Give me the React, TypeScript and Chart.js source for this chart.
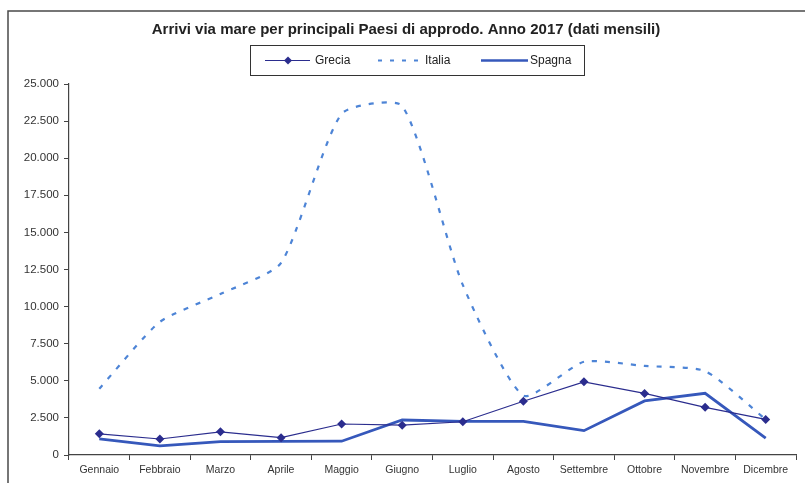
import React, { useEffect, useRef } from "react";
import { Chart, registerables } from "chart.js";

Chart.register(...registerables);

const categories = [
  "Gennaio", "Febbraio", "Marzo", "Aprile", "Maggio", "Giugno",
  "Luglio", "Agosto", "Settembre", "Ottobre", "Novembre", "Dicembre",
];
const grecia = [1430, 1080, 1560, 1170, 2090, 2010, 2240, 3620, 4930, 4150, 3210, 2400];
const italia = [4470, 8970, 10850, 12940, 22990, 23520, 11460, 4000, 6280, 6000, 5650, 2400];
const spagna = [1080, 610, 900, 920, 930, 2360, 2270, 2270, 1640, 3640, 4160, 1130];

const titleText = "Arrivi via mare per principali Paesi di approdo. Anno 2017 (dati mensili)";
const yMin = 0;
const yMax = 25000;
const yStep = 2500;

const FONT = "'Liberation Sans', Arial, sans-serif";
const C_GRECIA = "#2b2d8e";
const C_ITALIA = "#4d84d6";
const C_SPAGNA = "#3658bb";

function fmt(v: number): string {
  return String(Math.round(v)).replace(/\B(?=(\d{3})+(?!\d))/g, ".");
}

function drawDiamond(ctx: CanvasRenderingContext2D, x: number, y: number, r: number) {
  ctx.beginPath();
  ctx.moveTo(x, y - r);
  ctx.lineTo(x + r, y);
  ctx.lineTo(x, y + r);
  ctx.lineTo(x - r, y);
  ctx.closePath();
  ctx.fill();
}

const decorPlugin = {
  id: "decor",
  beforeDraw(chart: any) {
    const ctx = chart.ctx as CanvasRenderingContext2D;
    ctx.save();
    ctx.fillStyle = "#ffffff";
    ctx.fillRect(0, 0, chart.width, chart.height);
    ctx.strokeStyle = "#4a4a4a";
    ctx.lineWidth = 1.5;
    ctx.beginPath();
    ctx.moveTo(8, chart.height);
    ctx.lineTo(8, 11);
    ctx.lineTo(chart.width, 11);
    ctx.stroke();
    ctx.restore();
  },
  afterDraw(chart: any) {
    const ctx = chart.ctx as CanvasRenderingContext2D;
    ctx.save();
    ctx.fillStyle = "#222222";
    ctx.font = `bold 15px ${FONT}`;
    ctx.textAlign = "center";
    ctx.textBaseline = "middle";
    ctx.fillText(titleText, 406, 30);

    ctx.strokeStyle = "#333333";
    ctx.lineWidth = 1;
    ctx.strokeRect(250.5, 45.5, 334, 30);

    ctx.font = `12px ${FONT}`;
    ctx.textAlign = "left";
    ctx.fillStyle = "#222222";
    const ly = 60.5;
    ctx.strokeStyle = C_GRECIA;
    ctx.lineWidth = 1.2;
    ctx.beginPath();
    ctx.moveTo(265, ly);
    ctx.lineTo(310, ly);
    ctx.stroke();
    ctx.fillStyle = C_GRECIA;
    drawDiamond(ctx, 288, ly, 4);
    ctx.fillStyle = "#222222";
    ctx.fillText(chart.data.datasets[0].label, 315, ly);
    ctx.strokeStyle = C_ITALIA;
    ctx.lineWidth = 2;
    ctx.setLineDash([4, 8]);
    ctx.beginPath();
    ctx.moveTo(378, ly);
    ctx.lineTo(424, ly);
    ctx.stroke();
    ctx.setLineDash([]);
    ctx.fillText(chart.data.datasets[1].label, 425, ly);
    ctx.strokeStyle = C_SPAGNA;
    ctx.lineWidth = 2.5;
    ctx.beginPath();
    ctx.moveTo(481, ly);
    ctx.lineTo(528, ly);
    ctx.stroke();
    ctx.fillText(chart.data.datasets[2].label, 530, ly);
    ctx.restore();
  },
};

export default function App() {
  const ref = useRef<HTMLCanvasElement | null>(null);
  useEffect(() => {
    if (!ref.current) return;
    const chart = new Chart(ref.current, {
      type: "line",
      data: {
        labels: categories,
        datasets: [
          {
            label: "Grecia",
            data: grecia,
            borderColor: C_GRECIA,
            backgroundColor: C_GRECIA,
            borderWidth: 1.2,
            pointStyle: "rectRot",
            pointRadius: 4.5,
            pointBorderWidth: 0,
            pointBackgroundColor: C_GRECIA,
            tension: 0,
            order: 1,
          },
          {
            label: "Italia",
            data: italia,
            borderColor: C_ITALIA,
            borderWidth: 2.2,
            borderDash: [5, 8],
            pointRadius: 0,
            tension: 0.2,
            order: 3,
          },
          {
            label: "Spagna",
            data: spagna,
            borderColor: C_SPAGNA,
            borderWidth: 2.8,
            pointRadius: 0,
            tension: 0,
            order: 2,
          },
        ],
      },
      options: {
        responsive: false,
        animation: false,
        layout: { padding: { top: 84, right: 9, bottom: 0, left: 0 } },
        plugins: {
          legend: { display: false },
          title: { display: false },
          tooltip: { enabled: false },
        },
        scales: {
          x: {
            offset: true,
            grid: {
              offset: true,
              drawOnChartArea: false,
              drawTicks: true,
              tickLength: 5,
              color: "#444444",
            },
            border: { display: true, color: "#444444", width: 1.2 },
            ticks: {
              color: "#333333",
              font: { family: FONT, size: 10.5 },
              padding: 4,
              maxRotation: 0,
              autoSkip: false,
            },
            afterFit(scale: any) {
              scale.height = 28;
            },
          },
          y: {
            min: yMin,
            max: yMax,
            grid: {
              drawOnChartArea: false,
              drawTicks: true,
              tickLength: 5,
              color: "#444444",
            },
            border: { display: true, color: "#444444", width: 1.2 },
            ticks: {
              stepSize: yStep,
              color: "#333333",
              font: { family: FONT, size: 11.5 },
              padding: 5,
              callback: (v: any) => fmt(Number(v)),
            },
            afterFit(scale: any) {
              scale.width = 69;
            },
          },
        },
      },
      plugins: [decorPlugin],
    });
    return () => chart.destroy();
  }, []);
  return (
    <div style={{ position: "fixed", left: 0, top: 0, width: 805, height: 483 }}>
      <canvas ref={ref} width={805} height={483} style={{ width: 805, height: 483, display: "block" }} />
    </div>
  );
}
